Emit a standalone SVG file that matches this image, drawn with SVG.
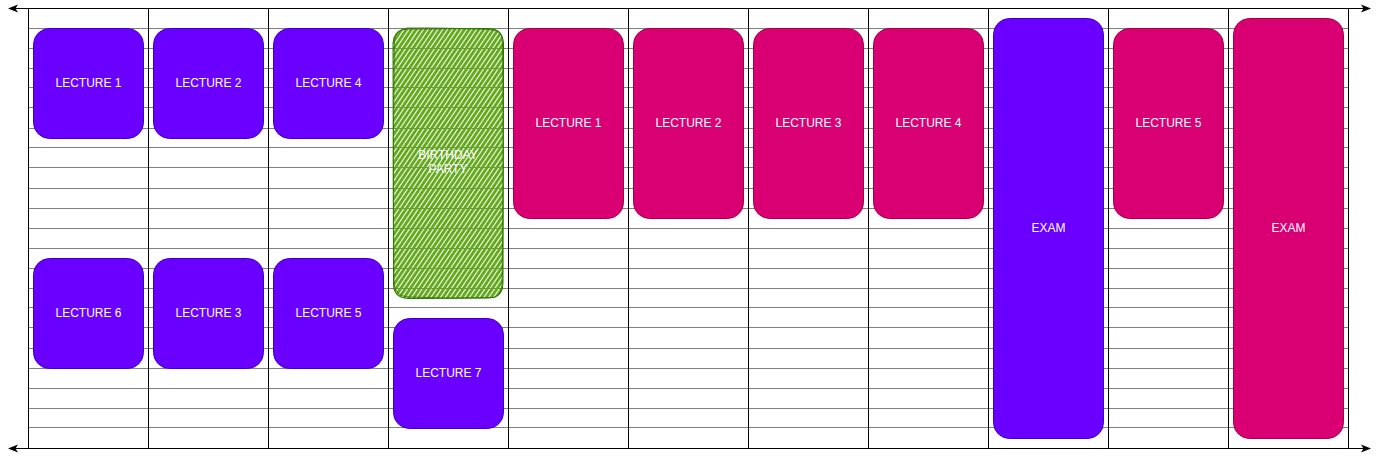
<svg xmlns="http://www.w3.org/2000/svg" width="1379" height="459" viewBox="0 0 1379 459">
<style>
.h{stroke:#808080;stroke-width:1;}
.v{stroke:#000;stroke-width:1;}
.p rect{fill:#6a00ff;stroke:#3700cc;stroke-width:1;}
.k rect{fill:#d80073;stroke:#a50040;stroke-width:1;}
text{font-family:"Liberation Sans",Arial,Helvetica,sans-serif;font-size:12px;fill:#fff;text-anchor:middle;dominant-baseline:central;}
.ax{stroke:#000;stroke-width:1;fill:none;marker-start:url(#al);marker-end:url(#ar);}
</style>
<defs>
<marker id="ar" viewBox="0 0 10 10" refX="9" refY="5" markerWidth="10" markerHeight="10" markerUnits="userSpaceOnUse" orient="auto">
<path d="M0,1 L10,5 L0,9 L2.5,5 Z" fill="#000"/>
</marker>
<marker id="al" viewBox="0 0 10 10" refX="1" refY="5" markerWidth="10" markerHeight="10" markerUnits="userSpaceOnUse" orient="auto">
<path d="M10,1 L0,5 L10,9 L7.5,5 Z" fill="#000"/>
</marker>
<pattern id="hatch" patternUnits="userSpaceOnUse" width="4" height="4" patternTransform="rotate(34)">
<line x1="1.5" y1="0" x2="1.5" y2="4" stroke="#60a917" stroke-width="2.9"/>
</pattern>
</defs>

<g id="grid">
<g id="hlines">
<line class="h" x1="28" y1="28.5" x2="1348" y2="28.5"/>
<line class="h" x1="28" y1="48.5" x2="1348" y2="48.5"/>
<line class="h" x1="28" y1="68.5" x2="1348" y2="68.5"/>
<line class="h" x1="28" y1="87.5" x2="1348" y2="87.5"/>
<line class="h" x1="28" y1="107.5" x2="1348" y2="107.5"/>
<line class="h" x1="28" y1="128.5" x2="1348" y2="128.5"/>
<line class="h" x1="28" y1="147.5" x2="1348" y2="147.5"/>
<line class="h" x1="28" y1="167.5" x2="1348" y2="167.5"/>
<line class="h" x1="28" y1="188.5" x2="1348" y2="188.5"/>
<line class="h" x1="28" y1="208.5" x2="1348" y2="208.5"/>
<line class="h" x1="28" y1="228.5" x2="1348" y2="228.5"/>
<line class="h" x1="28" y1="248.5" x2="1348" y2="248.5"/>
<line class="h" x1="28" y1="268.5" x2="1348" y2="268.5"/>
<line class="h" x1="28" y1="288.5" x2="1348" y2="288.5"/>
<line class="h" x1="28" y1="307.5" x2="1348" y2="307.5"/>
<line class="h" x1="28" y1="327.5" x2="1348" y2="327.5"/>
<line class="h" x1="28" y1="348.5" x2="1348" y2="348.5"/>
<line class="h" x1="28" y1="368.5" x2="1348" y2="368.5"/>
<line class="h" x1="28" y1="388.5" x2="1348" y2="388.5"/>
<line class="h" x1="28" y1="408.5" x2="1348" y2="408.5"/>
<line class="h" x1="28" y1="427.5" x2="1348" y2="427.5"/>
</g>
<g id="vlines">
<line class="v" x1="28.5" y1="8" x2="28.5" y2="448"/>
<line class="v" x1="148.5" y1="8" x2="148.5" y2="448"/>
<line class="v" x1="268.5" y1="8" x2="268.5" y2="448"/>
<line class="v" x1="388.5" y1="8" x2="388.5" y2="448"/>
<line class="v" x1="508.5" y1="8" x2="508.5" y2="448"/>
<line class="v" x1="628.5" y1="8" x2="628.5" y2="448"/>
<line class="v" x1="748.5" y1="8" x2="748.5" y2="448"/>
<line class="v" x1="868.5" y1="8" x2="868.5" y2="448"/>
<line class="v" x1="988.5" y1="8" x2="988.5" y2="448"/>
<line class="v" x1="1108.5" y1="8" x2="1108.5" y2="448"/>
<line class="v" x1="1228.5" y1="8" x2="1228.5" y2="448"/>
<line class="v" x1="1348.5" y1="8" x2="1348.5" y2="448"/>
</g>
</g>

<g id="connectors">
<line class="ax" x1="9" y1="8.5" x2="1370" y2="8.5"/>
<line class="ax" x1="9" y1="448.5" x2="1370" y2="448.5"/>
</g>

<g id="w1-lecture1" class="p"><rect x="33.5" y="28.5" width="110" height="110" rx="16"/><text x="88.5" y="82.5">LECTURE 1</text></g>
<g id="w1-lecture2" class="p"><rect x="153.5" y="28.5" width="110" height="110" rx="16"/><text x="208.5" y="82.5">LECTURE 2</text></g>
<g id="w1-lecture4" class="p"><rect x="273.5" y="28.5" width="110" height="110" rx="16"/><text x="328.5" y="82.5">LECTURE 4</text></g>
<g id="w1-lecture6" class="p"><rect x="33.5" y="258.5" width="110" height="110" rx="16"/><text x="88.5" y="312.5">LECTURE 6</text></g>
<g id="w1-lecture3" class="p"><rect x="153.5" y="258.5" width="110" height="110" rx="16"/><text x="208.5" y="312.5">LECTURE 3</text></g>
<g id="w1-lecture5" class="p"><rect x="273.5" y="258.5" width="110" height="110" rx="16"/><text x="328.5" y="312.5">LECTURE 5</text></g>

<g id="birthday-party">
<path d="M408,29 L489,28.5 Q503,28.5 503.5,43 L503,283 Q503,298 489,298 L408,298.5 Q393,298 393.5,284 L393,43 Q393.5,29 408,29 Z" fill="url(#hatch)" stroke="#2d7600" stroke-width="1"/>
<path d="M407,28 Q440,27.5 490,29.5 Q504,30 502.5,45 Q504,160 502,285 Q501,299.5 488,297.5 Q450,299 409,297 Q394.5,296.5 394,283 Q392.5,160 394.5,42 Q395,29.5 407,28" fill="none" stroke="#2d7600" stroke-width="1" opacity="0.8"/>
<text x="448" y="155">BIRTHDAY</text>
<text x="448" y="169">PARTY</text>
</g>
<g id="w1-lecture7" class="p"><rect x="393.5" y="318.5" width="110" height="110" rx="16"/><text x="448.5" y="372.5">LECTURE 7</text></g>

<g id="w2-lecture1" class="k"><rect x="513.5" y="28.5" width="110" height="190" rx="16"/><text x="568.5" y="122.5">LECTURE 1</text></g>
<g id="w2-lecture2" class="k"><rect x="633.5" y="28.5" width="110" height="190" rx="16"/><text x="688.5" y="122.5">LECTURE 2</text></g>
<g id="w2-lecture3" class="k"><rect x="753.5" y="28.5" width="110" height="190" rx="16"/><text x="808.5" y="122.5">LECTURE 3</text></g>
<g id="w2-lecture4" class="k"><rect x="873.5" y="28.5" width="110" height="190" rx="16"/><text x="928.5" y="122.5">LECTURE 4</text></g>
<g id="exam-1" class="p"><rect x="993.5" y="18.5" width="110" height="420" rx="16"/><text x="1048.5" y="227.5">EXAM</text></g>
<g id="w2-lecture5" class="k"><rect x="1113.5" y="28.5" width="110" height="190" rx="16"/><text x="1168.5" y="122.5">LECTURE 5</text></g>
<g id="exam-2" class="k"><rect x="1233.5" y="18.5" width="110" height="420" rx="16"/><text x="1288.5" y="227.5">EXAM</text></g>
</svg>
